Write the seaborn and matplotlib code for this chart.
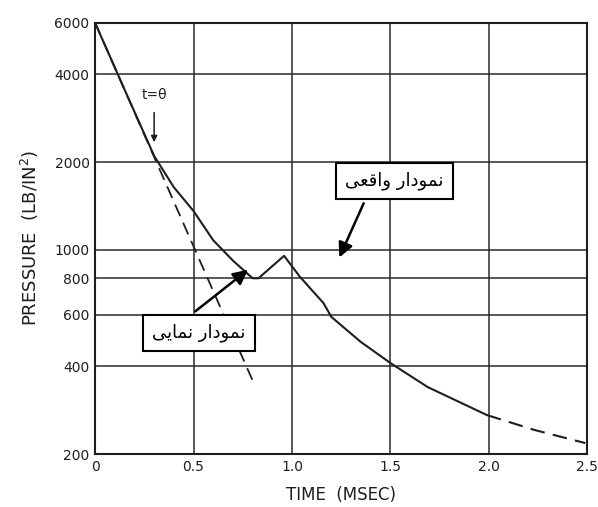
import numpy as np
import pandas as pd
import matplotlib
matplotlib.use("Agg")
import matplotlib.pyplot as plt
from matplotlib.ticker import NullLocator
import seaborn as sns

# values (time in msec, pressure in lb/in^2)
exp_time = [0.0, 0.81]
exp_pressure = [6000, 345]

actual_time = [0.0, 0.15, 0.30, 0.40, 0.50, 0.60, 0.70, 0.80, 0.83, 0.96,
               1.04, 1.16, 1.20, 1.35, 1.50, 1.69, 1.99]
actual_pressure = [6000, 3540, 2100, 1640, 1360, 1080, 920, 800, 800, 955,
                   810, 658, 590, 484, 410, 339, 272]

tail_time = [1.99, 2.23, 2.49]
tail_pressure = [272, 242, 218]

x_ticks = [0, 0.5, 1.0, 1.5, 2.0, 2.5]
x_labels = ["0", "0.5", "1.0", "1.5", "2.0", "2.5"]
y_ticks = [200, 400, 600, 800, 1000, 2000, 4000, 6000]
y_labels = ["200", "400", "600", "800", "1000", "2000", "4000", "6000"]

# Persian labels, pre-shaped (presentation forms) in visual order
# "نمودار واقعی"
actual_label = "\uFBFD\uFECC\uFED7\uFE8D\uFEED \uFEAD\uFE8D\uFEA9\uFEEE\uFEE4\uFEE7"
# "نمودار نمایی"
exp_label = "\uFBFD\uFBFE\uFE8E\uFEE4\uFEE7 \uFEAD\uFE8D\uFEA9\uFEEE\uFEE4\uFEE7"

sns.set_theme(style="white")
plt.rcParams["font.family"] = ["DejaVu Sans"]

ink = "#1e1e1e"

fig, ax = plt.subplots(figsize=(5.98, 5.07), dpi=100)
fig.subplots_adjust(left=0.159, right=0.982, top=0.955, bottom=0.1045)

exp_df = pd.DataFrame({"time": exp_time, "pressure": exp_pressure})
actual_df = pd.DataFrame({"time": actual_time, "pressure": actual_pressure})
tail_df = pd.DataFrame({"time": tail_time, "pressure": tail_pressure})

sns.lineplot(data=exp_df, x="time", y="pressure", ax=ax, color=ink, lw=1.3,
             estimator=None, sort=False, linestyle=(0, (7, 4)))
sns.lineplot(data=actual_df, x="time", y="pressure", ax=ax, color=ink, lw=1.5,
             estimator=None, sort=False)
sns.lineplot(data=tail_df, x="time", y="pressure", ax=ax, color=ink, lw=1.5,
             estimator=None, sort=False, linestyle=(0, (7, 4)))

ax.set_yscale("log")
ax.set_xlim(0, 2.5)
ax.set_ylim(200, 6000)
ax.set_xticks(x_ticks)
ax.set_xticklabels(x_labels)
ax.set_yticks(y_ticks)
ax.set_yticklabels(y_labels)
ax.yaxis.set_minor_locator(NullLocator())
ax.tick_params(length=0, labelsize=10, colors=ink, pad=4)

ax.grid(True, color="#2a2a2a", lw=1.1)
for sp in ax.spines.values():
    sp.set_color(ink)
    sp.set_linewidth(1.5)

ax.set_xlabel("TIME  (MSEC)", fontsize=12, color=ink, labelpad=9)
ax.set_ylabel("PRESSURE  (LB/IN$^2$)", fontsize=13, color=ink, labelpad=10)

# t = theta marker
ax.text(0.30, 3400, "t=θ", ha="center", va="center", fontsize=10, color=ink)
ax.annotate("", xy=(0.30, 2290), xytext=(0.30, 3020),
            arrowprops=dict(arrowstyle="-|>", color=ink, lw=1.1, mutation_scale=9))

# callout arrows and boxes
ax.annotate("", xy=(1.235, 924), xytext=(1.37, 1474),
            arrowprops=dict(arrowstyle="-|>", color="black", lw=1.8, mutation_scale=22))
ax.annotate("", xy=(0.788, 867), xytext=(0.498, 608),
            arrowprops=dict(arrowstyle="-|>", color="black", lw=1.8, mutation_scale=22))

box = dict(boxstyle="square,pad=0.5", fc="white", ec="black", lw=1.5)
ax.text(1.52, 1725, actual_label, ha="center", va="center", fontsize=13,
        color="black", bbox=box, zorder=5)
ax.text(0.528, 520, exp_label, ha="center", va="center", fontsize=13,
        color="black", bbox=box, zorder=5)

plt.savefig("out.png", dpi=100)
plt.close()
